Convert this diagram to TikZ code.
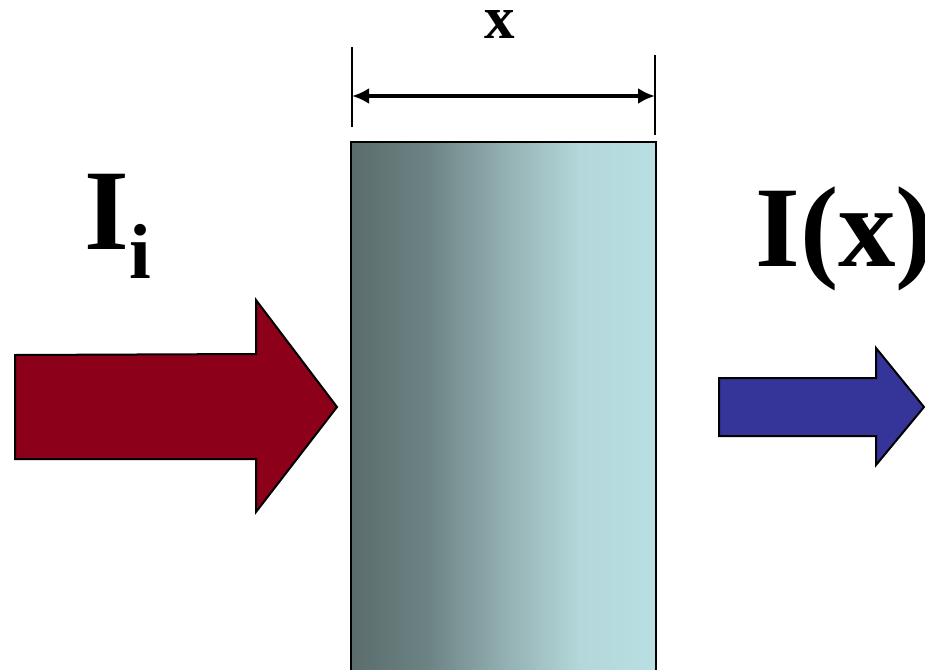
\documentclass[tikz,border=0pt]{standalone}
\usepackage{fontspec}
\setmainfont{Liberation Serif}
\usetikzlibrary{arrows.meta,positioning}
\definecolor{beamRed}{HTML}{8C0019}
\definecolor{beamBlue}{HTML}{343499}
\definecolor{slabDark}{HTML}{5B6C6C}
\definecolor{slabQuart}{HTML}{6C8384}
\definecolor{slabMid}{HTML}{93AFB1}
\definecolor{slabThree}{HTML}{B3D7DA}
\definecolor{slabLight}{HTML}{B9DFE3}
\pgfdeclarehorizontalshading{slabshade}{100bp}{color(0bp)=(slabDark); color(25bp)=(slabDark); color(37.5bp)=(slabQuart); color(50bp)=(slabMid); color(62.5bp)=(slabThree); color(75bp)=(slabLight); color(100bp)=(slabLight)}
\tikzset{
  beam/.style={draw=black,line width=1pt,line join=miter},
  slab/.style={draw=black,line width=1pt,shading=slabshade},
  bigsym/.style={font=\fontsize{57.5}{60}\selectfont\bfseries,inner sep=0pt,anchor=base west},
  subsym/.style={font=\fontsize{39}{42}\selectfont\bfseries,inner sep=0pt,anchor=base west},
  dimline/.style={{Latex[length=8.5pt,width=8pt]}-{Latex[length=8.5pt,width=8pt]},line width=2pt},
  tickline/.style={line width=0.8pt}
}
\begin{document}
\begin{tikzpicture}[x=0.5pt,y=-0.5pt]
  \useasboundingbox (0,0) rectangle (925,669);
  \clip (0,0) rectangle (925,669);
  % slab
  \path[slab] (351,142) rectangle (656,690);
  % thickness
  \coordinate (dimL) at (352,96);
  \coordinate (dimR) at (655,96);
  \draw[tickline] (352,47) -- (352,127);
  \draw[tickline] (655,55) -- (655,135);
  \draw[dimline] (dimL) -- (dimR);
  \node[font=\fontsize{30.5}{32}\selectfont\bfseries,inner sep=0pt,anchor=base] (xlab) at (500,38) {x};
  % beams
  \draw[beam,fill=beamRed] (15,355) -- (256,354) -- (256,300) -- (337,407) -- (256,512) -- (256,459) -- (15,459) -- cycle;
  \draw[beam,fill=beamBlue] (719,378) -- (876,378) -- (876,348) -- (924,407) -- (876,465) -- (876,436) -- (719,436) -- cycle;
  \node[bigsym] (Iin) at (84,249) {I};
  \node[subsym] (Isub) at (129,278) {i};
  \node[bigsym] (Iout) at (755,266) {I(x)};
\end{tikzpicture}
\end{document}
